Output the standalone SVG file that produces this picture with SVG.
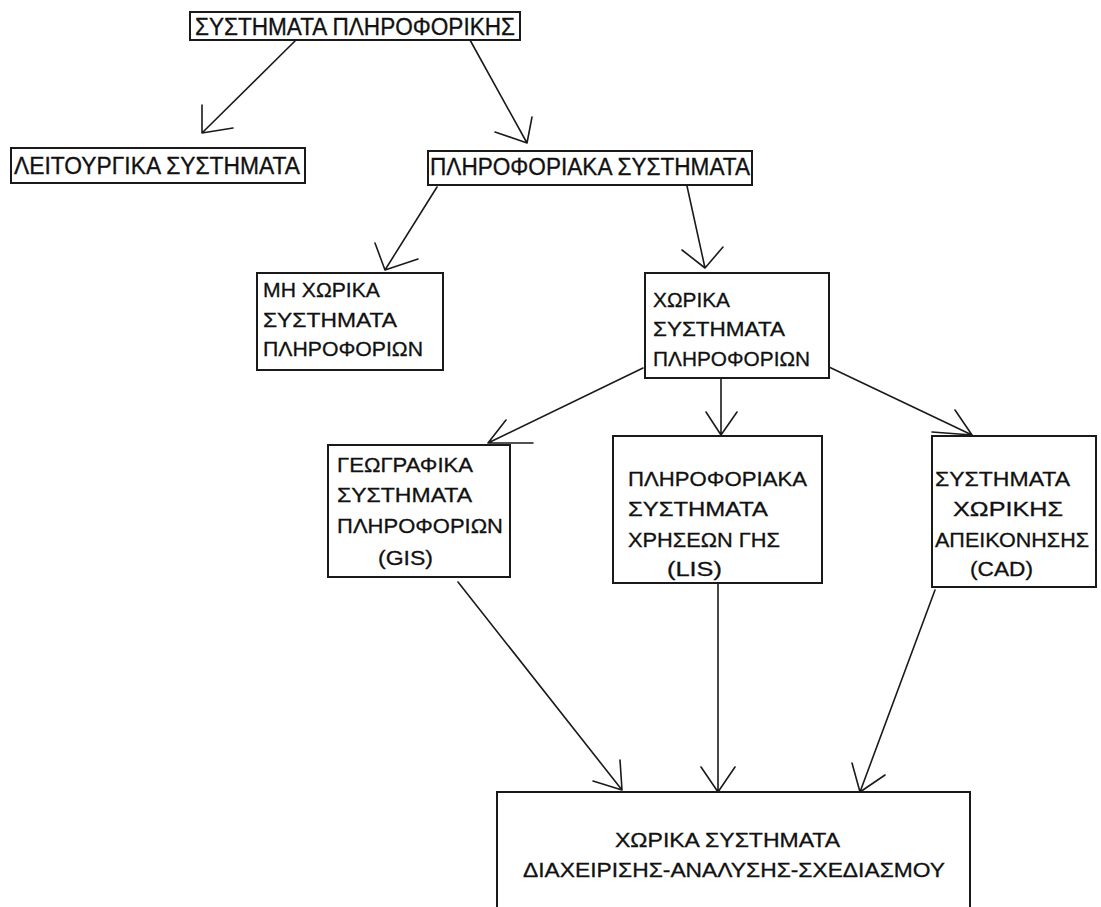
<svg xmlns="http://www.w3.org/2000/svg" width="1101" height="907" viewBox="0 0 1101 907">
  <style>
    .box { fill: #ffffff; stroke: #1a1a1a; stroke-width: 2; }
    .lbl { font-family: "Liberation Sans", Arial, sans-serif; font-size: 21px; fill: #111111; stroke: #111111; stroke-width: 0.3; }
    .big { font-size: 23px; }
    .wire { fill: none; stroke: #1a1a1a; stroke-width: 1.6; stroke-linecap: round; stroke-linejoin: round; }
  </style>
  <rect x="0" y="0" width="1101" height="907" fill="#ffffff"/>

  <!-- connectors: shaft plus open V arrowhead -->
  <g id="connectors">
    <path class="wire" d="M296,40 L202,133 M202,105 L202,133 L233,128"/>
    <path class="wire" d="M470,40 L527,143 M532,117 L527,143 L495,132"/>
    <path class="wire" d="M437,187 L385,270 M375,243 L385,270 L418,259"/>
    <path class="wire" d="M687,186 L705,268 M682,250 L705,268 L723,247"/>
    <path class="wire" d="M643,368 L488,443 M506,420 L488,443 L533,443"/>
    <path class="wire" d="M721,378 L721,435 M706,412 L721,435 L737,412"/>
    <path class="wire" d="M829,367 L972,435 M955,410 L972,435 L932,432"/>
    <path class="wire" d="M458,582 L622,790 M593,781 L622,790 L620,760"/>
    <path class="wire" d="M718,583 L718,792 M701,767 L718,792 L735,767"/>
    <path class="wire" d="M935,590 L860,792 M885,775 L860,792 L852,763"/>
  </g>

  <g id="node-pliroforiki">
    <rect class="box" x="190" y="12" width="330" height="28"/>
    <text class="lbl big" x="195" y="35" textLength="320" lengthAdjust="spacingAndGlyphs">ΣΥΣΤΗΜΑΤΑ ΠΛΗΡΟΦΟΡΙΚΗΣ</text>
  </g>

  <g id="node-leitourgika">
    <rect class="box" x="11" y="148" width="294" height="35"/>
    <text class="lbl big" x="14" y="174" textLength="286" lengthAdjust="spacingAndGlyphs">ΛΕΙΤΟΥΡΓΙΚΑ ΣΥΣΤΗΜΑΤΑ</text>
  </g>

  <g id="node-pliroforiaka">
    <rect class="box" x="428" y="151" width="324" height="34"/>
    <text class="lbl big" x="430" y="175" textLength="320" lengthAdjust="spacingAndGlyphs">ΠΛΗΡΟΦΟΡΙΑΚΑ ΣΥΣΤΗΜΑΤΑ</text>
  </g>

  <g id="node-mi-xorika">
    <rect class="box" x="257" y="273" width="186" height="97"/>
    <text class="lbl" x="263" y="297" textLength="117" lengthAdjust="spacingAndGlyphs">ΜΗ ΧΩΡΙΚΑ</text>
    <text class="lbl" x="263" y="327" textLength="134" lengthAdjust="spacingAndGlyphs">ΣΥΣΤΗΜΑΤΑ</text>
    <text class="lbl" x="263" y="356" textLength="160" lengthAdjust="spacingAndGlyphs">ΠΛΗΡΟΦΟΡΙΩΝ</text>
  </g>

  <g id="node-xorika">
    <rect class="box" x="645" y="273" width="184" height="105"/>
    <text class="lbl" x="653" y="307" textLength="77" lengthAdjust="spacingAndGlyphs">ΧΩΡΙΚΑ</text>
    <text class="lbl" x="653" y="336" textLength="132" lengthAdjust="spacingAndGlyphs">ΣΥΣΤΗΜΑΤΑ</text>
    <text class="lbl" x="653" y="366" textLength="157" lengthAdjust="spacingAndGlyphs">ΠΛΗΡΟΦΟΡΙΩΝ</text>
  </g>

  <g id="node-gis">
    <rect class="box" x="328" y="445" width="182" height="132"/>
    <text class="lbl" x="337" y="472" textLength="136" lengthAdjust="spacingAndGlyphs">ΓΕΩΓΡΑΦΙΚΑ</text>
    <text class="lbl" x="337" y="502" textLength="135" lengthAdjust="spacingAndGlyphs">ΣΥΣΤΗΜΑΤΑ</text>
    <text class="lbl" x="337" y="533" textLength="166" lengthAdjust="spacingAndGlyphs">ΠΛΗΡΟΦΟΡΙΩΝ</text>
    <text class="lbl" x="378" y="565" textLength="55" lengthAdjust="spacingAndGlyphs">(GIS)</text>
  </g>

  <g id="node-lis">
    <rect class="box" x="613" y="436" width="209" height="147"/>
    <text class="lbl" x="628" y="486" textLength="179" lengthAdjust="spacingAndGlyphs">ΠΛΗΡΟΦΟΡΙΑΚΑ</text>
    <text class="lbl" x="628" y="516" textLength="140" lengthAdjust="spacingAndGlyphs">ΣΥΣΤΗΜΑΤΑ</text>
    <text class="lbl" x="628" y="547" textLength="152" lengthAdjust="spacingAndGlyphs">ΧΡΗΣΕΩΝ ΓΗΣ</text>
    <text class="lbl" x="667" y="576" textLength="55" lengthAdjust="spacingAndGlyphs">(LIS)</text>
  </g>

  <g id="node-cad">
    <rect class="box" x="932" y="436" width="164" height="151"/>
    <text class="lbl" x="935" y="486" textLength="135" lengthAdjust="spacingAndGlyphs">ΣΥΣΤΗΜΑΤΑ</text>
    <text class="lbl" x="953" y="516" textLength="110" lengthAdjust="spacingAndGlyphs">ΧΩΡΙΚΗΣ</text>
    <text class="lbl" x="935" y="547" textLength="154" lengthAdjust="spacingAndGlyphs">ΑΠΕΙΚΟΝΗΣΗΣ</text>
    <text class="lbl" x="970" y="576" textLength="63" lengthAdjust="spacingAndGlyphs">(CAD)</text>
  </g>

  <g id="node-diaxeirisi">
    <rect class="box" x="497" y="792" width="473" height="130"/>
    <text class="lbl" x="615" y="847" textLength="225" lengthAdjust="spacingAndGlyphs">ΧΩΡΙΚΑ ΣΥΣΤΗΜΑΤΑ</text>
    <text class="lbl" x="523" y="877" textLength="422" lengthAdjust="spacingAndGlyphs">ΔΙΑΧΕΙΡΙΣΗΣ-ΑΝΑΛΥΣΗΣ-ΣΧΕΔΙΑΣΜΟΥ</text>
  </g>
</svg>
